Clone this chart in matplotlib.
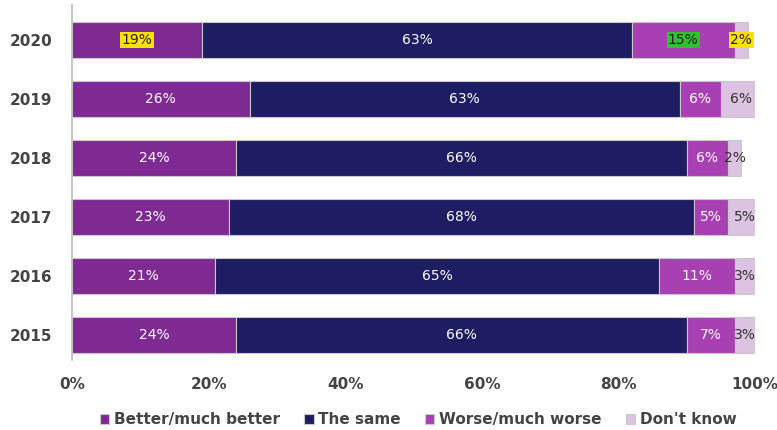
import matplotlib.pyplot as plt
import numpy as np

years = ['2015', '2016', '2017', '2018', '2019', '2020']
better = np.array([24, 21, 23, 24, 26, 19])
same = np.array([66, 65, 68, 66, 63, 63])
worse = np.array([7, 11, 5, 6, 6, 15])
dont_know = np.array([3, 3, 5, 2, 6, 2])

series = [better, same, worse, dont_know]
names = ['Better/much better', 'The same', 'Worse/much worse', "Don't know"]
colors = ['#7e2a92', '#1e1c63', '#a83fb3', '#dcc3e2']
text_colors = ['white', 'white', 'white', '#333333']

# highlighted labels in the 2020 row: (series index) -> background colour
highlight = {0: '#ffe100', 2: '#2fc22f', 3: '#ffe100'}

fig = plt.figure(figsize=(7.77, 4.30), dpi=100)
ax = fig.add_axes([0.0927, 0.163, 0.879, 0.825])

y = np.arange(len(years))
left = np.zeros(len(years))
for i, (vals, name, col) in enumerate(zip(series, names, colors)):
    ax.barh(y, vals, left=left, height=0.62, color=col, label=name,
            edgecolor='#c8c8c8', linewidth=0.8)
    for j, v in enumerate(vals):
        cx = left[j] + v / 2
        if years[j] == '2020' and i in highlight:
            ax.text(cx, y[j], f'{v}%', ha='center', va='center', fontsize=10,
                    color='#222222',
                    bbox=dict(boxstyle='square,pad=0.1', fc=highlight[i], ec='none'))
        else:
            ax.text(cx, y[j], f'{v}%', ha='center', va='center', fontsize=10,
                    color=text_colors[i])
    left += vals

ax.set_xlim(0, 100)
ax.set_ylim(-0.42, 5.59)
ax.set_xticks([0, 20, 40, 60, 80, 100])
ax.set_xticklabels(['0%', '20%', '40%', '60%', '80%', '100%'])
ax.set_yticks(y)
ax.set_yticklabels(years)
ax.tick_params(axis='both', length=0, labelsize=11, labelcolor='#444444')
ax.tick_params(axis='x', pad=12)
ax.tick_params(axis='y', pad=14)
for lbl in ax.get_xticklabels() + ax.get_yticklabels():
    lbl.set_fontweight('bold')

for s in ['top', 'right', 'bottom']:
    ax.spines[s].set_visible(False)
ax.spines['left'].set_color('#bbbbbb')
ax.spines['left'].set_linewidth(1.2)

ax.legend(loc='center', bbox_to_anchor=(0.507, -0.169), ncol=4, frameon=False,
          handlelength=0.6, handleheight=0.6, handletextpad=0.3,
          columnspacing=1.6, labelcolor='#444444',
          prop={'weight': 'bold', 'size': 11})

plt.savefig('out.png', dpi=100)
